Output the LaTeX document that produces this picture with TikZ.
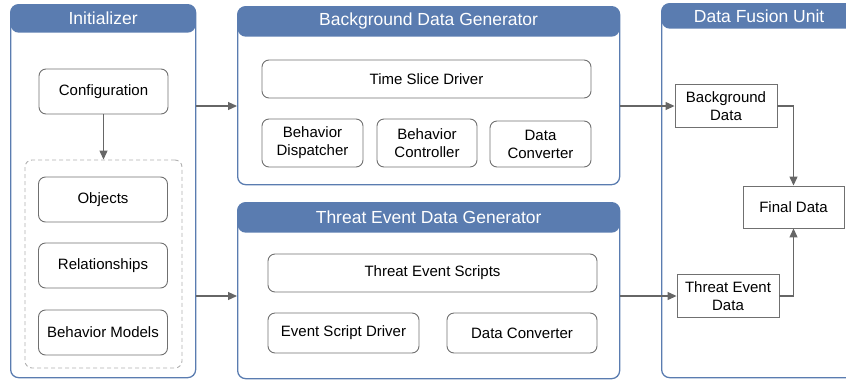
\documentclass[tikz,border=0pt]{standalone}
\usepackage{fontspec}
\setmainfont{Liberation Sans}
\usetikzlibrary{positioning,arrows.meta}
\definecolor{hdrblue}{HTML}{5A7CB0}
\definecolor{boxgray}{HTML}{707070}
\definecolor{arrgray}{HTML}{666666}
\definecolor{dashgray}{HTML}{B0B0B0}
\tikzset{
  panel/.style={draw=hdrblue, line width=1.3pt, rounded corners=8pt, inner sep=0pt,
    anchor=north west,
    path picture={\fill[hdrblue] (path picture bounding box.north west)
      rectangle ([yshift=-#1]path picture bounding box.north east);}},
  title/.style={text=white, font=\fontsize{17.5}{20}\selectfont, inner sep=0pt},
  box/.style={draw=boxgray, line width=0.9pt, rounded corners=7pt, align=center,
    font=\fontsize{15}{18}\selectfont, inner sep=0pt},
  databox/.style={draw=boxgray, line width=0.9pt, align=center,
    font=\fontsize{15}{18}\selectfont, inner sep=0pt,
    minimum width=102pt, minimum height=43pt},
  group/.style={draw=dashgray, line width=0.9pt, dash pattern=on 4pt off 3pt,
    rounded corners=7pt},
  arr/.style={draw=arrgray, line width=1.2pt, -{Triangle[length=9pt,width=8pt]}}
}
\begin{document}
\begin{tikzpicture}[x=1pt,y=-1pt]
\clip (0,0) rectangle (846,381);
% panels
\node[panel=28pt, minimum width=185pt, minimum height=373pt] (init) at (10,4) {};
\node[title] (initT) at ([yshift=-14pt]init.north) {Initializer};
\node[panel=30pt, minimum width=382pt, minimum height=178pt] (bgdg) at (237,6) {};
\node[title] (bgdgT) at ([yshift=-15pt]bgdg.north) {Background Data Generator};
\node[panel=30pt, minimum width=382pt, minimum height=176pt] (tedg) at (237,202) {};
\node[title] (tedgT) at ([yshift=-15pt]tedg.north) {Threat Event Data Generator};
\node[panel=25pt, minimum width=195pt, minimum height=374pt] (dfu) at (661,3) {};
\node[title] (dfuT) at ([yshift=-13pt]dfu.north) {Data Fusion Unit};
% initializer
\node[box, minimum width=129pt, minimum height=45pt] (config) at (103.5,91.5) {Configuration};
\node[group, minimum width=157pt, minimum height=208pt] (models) at (103.5,264) {};
\node[box, minimum width=129pt, minimum height=45pt] (objects) at (103,199.5) {Objects};
\node[box, minimum width=129pt, minimum height=45pt] (rels) at (103,265.5) {Relationships};
\node[box, minimum width=129pt, minimum height=45pt] (bmodels) at (103,332.5) {Behavior Models};
% background data generator
\node[box, minimum width=329pt, minimum height=38pt] (tsd) at (426.5,79) {Time Slice Driver};
\node[box, minimum width=101pt, minimum height=48pt] (bdisp) at (312.5,143) {Behavior\\Dispatcher};
\node[box, minimum width=100pt, minimum height=48pt] (bctrl) at (427,143) {Behavior\\Controller};
\node[box, minimum width=101pt, minimum height=46pt] (conv1) at (540.5,144) {Data\\Converter};
% threat event data generator
\node[box, minimum width=329pt, minimum height=38pt] (tes) at (432.5,273) {Threat Event Scripts};
\node[box, minimum width=151pt, minimum height=40pt] (esd) at (343.5,333) {Event Script Driver};
\node[box, minimum width=150pt, minimum height=40pt] (conv2) at (522,333) {Data Converter};
% data fusion unit
\node[databox] (bgdata) at (726,106) {Background\\Data};
\node[databox] (tedata) at (728,296) {Threat Event\\Data};
\node[databox, minimum width=101pt, minimum height=42pt] (final) at (793.5,207) {Final Data};
% connectors
\draw[arr] (config) -- (models);
\draw[arr] (init.east |- bgdata) -- (bgdg.west |- bgdata);
\draw[arr] (init.east |- tedata) -- (tedg.west |- tedata);
\draw[arr] (bgdg.east |- bgdata) -- (bgdata);
\draw[arr] (tedg.east |- tedata) -- (tedata);
\draw[arr] (bgdata.east) -| (final.north);
\draw[arr] (tedata.east) -| (final.south);
\end{tikzpicture}
\end{document}
